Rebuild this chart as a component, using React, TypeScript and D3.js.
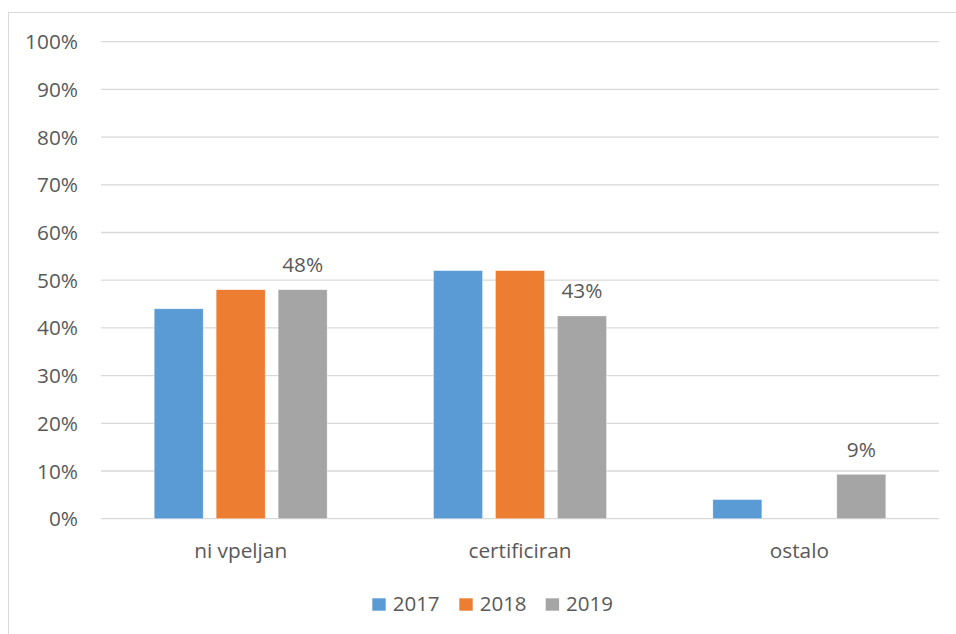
import React from "react";
import * as d3 from "d3";

const categories = ["ni vpeljan", "certificiran", "ostalo"];
const seriesNames = ["2017", "2018", "2019"];
const values2017 = [44, 52, 4];
const values2018 = [48, 52, 0];
const values2019 = [48, 42.5, 9.3];
const yTicks = [0, 10, 20, 30, 40, 50, 60, 70, 80, 90, 100];
const colors = ["#5B9BD5", "#ED7D31", "#A5A5A5"];

const W = 956;
const H = 634;
const FONT = "'Open Sans', sans-serif";
const TEXT = "#595959";

export default function App() {
  const series = [values2017, values2018, values2019];
  const plotL = 101;
  const plotR = 939;
  const y = d3.scaleLinear().domain([0, 100]).range([518.7, 41.7]);
  const x0 = d3.scaleBand<string>().domain(categories).range([plotL, plotR]).paddingInner(0.381).paddingOuter(0.1905);
  const x1 = d3.scaleBand<string>().domain(seriesNames).range([0, x0.bandwidth()]).paddingInner(0.21).paddingOuter(0);

  return (
    <svg width={W} height={H} style={{ position: "absolute", left: 0, top: 0 }} fontFamily={FONT}>
      <rect x={0} y={0} width={W} height={H} fill="#fff" />
      <line x1={8} x2={W} y1={12.5} y2={12.5} stroke="#d9d9d9" strokeWidth={1} />
      <line x1={8.5} x2={8.5} y1={12} y2={H} stroke="#d9d9d9" strokeWidth={1} />
      {yTicks.map((t) => (
        <g key={t}>
          <line x1={plotL} x2={plotR} y1={y(t)} y2={y(t)} stroke="#d9d9d9" strokeWidth={1.3} />
          <text x={78} y={y(t) + 7.5} textAnchor="end" fontSize={20.8} fill={TEXT}>
            {t}%
          </text>
        </g>
      ))}
      {categories.map((c, ci) => (
        <g key={c} transform={`translate(${x0(c)},0)`}>
          {seriesNames.map((s, si) => {
            const v = series[si][ci];
            if (v <= 0) return null;
            return (
              <rect
                key={s}
                x={x1(s)}
                y={y(v)}
                width={x1.bandwidth()}
                height={y(0) - y(v)}
                fill={colors[si]}
                stroke="rgba(255,255,255,0.5)"
                strokeWidth={0.6}
              />
            );
          })}
          <text
            x={(x1("2019") as number) + x1.bandwidth() / 2}
            y={y(values2019[ci]) - 17.5}
            textAnchor="middle"
            fontSize={20.8}
            fill={TEXT}
          >
            {Math.round(values2019[ci])}%
          </text>
          <text x={x0.bandwidth() / 2} y={558} textAnchor="middle" fontSize={20.8} fill={TEXT}>
            {c}
          </text>
        </g>
      ))}
      {seriesNames.map((s, si) => {
        const lx = [372.3, 459.3, 545.7][si];
        return (
          <g key={s}>
            <rect x={lx} y={598.3} width={13.4} height={12.4} fill={colors[si]} />
            <text x={lx + 20.4} y={610.7} fontSize={20.5} fill={TEXT}>
              {s}
            </text>
          </g>
        );
      })}
    </svg>
  );
}
